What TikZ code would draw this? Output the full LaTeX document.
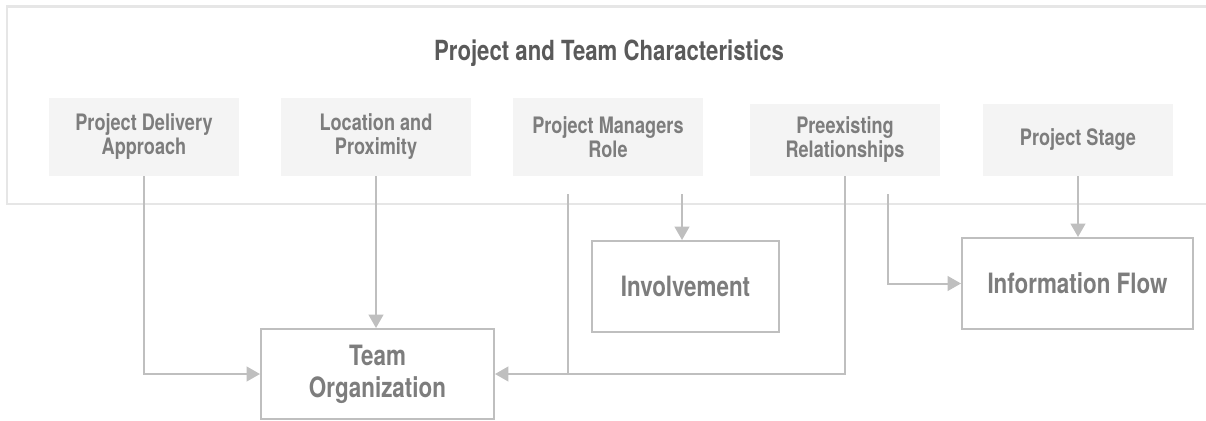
\documentclass[tikz,border=0pt]{standalone}
\usepackage{fontspec}
\setmainfont{TeX Gyre Heros}[FakeStretch=0.8]
\usetikzlibrary{arrows.meta}
\definecolor{lineg}{HTML}{BFBFBF}
\definecolor{frameg}{HTML}{E6E6E6}
\definecolor{fillg}{HTML}{F4F4F4}
\definecolor{txtg}{HTML}{7D7D7D}
\definecolor{titleg}{HTML}{5A5A5A}
\begin{document}
\begin{tikzpicture}[x=0.75pt,y=-0.75pt,
  charbox/.style={fill=fillg,draw=none,inner sep=0pt,minimum width=142.5pt,align=center,
    text=txtg,font=\fontsize{17}{18}\selectfont\bfseries},
  outbox/.style={draw=lineg,line width=1.5pt,fill=white,inner sep=0pt,align=center,
    text=txtg,font=\fontsize{21}{24}\selectfont\bfseries},
  conn/.style={draw=lineg,line width=1.5pt,-{Triangle[length=10pt,width=11pt]}},
  plainconn/.style={draw=lineg,line width=1.5pt},
  frame/.style={draw=frameg,line width=1.8pt}
]
\useasboundingbox (0,0) rectangle (1206,421);
\draw[frame] (1210,6.5) -- (7,6.5) -- (7,204) -- (1210,204);
\node[text=titleg,font=\fontsize{20.8}{24}\selectfont\bfseries,inner sep=0pt] (ttl) at (609,53) {Project and Team Characteristics};

\node[charbox,minimum height=58.5pt] (b1) at (144,137) {Project Delivery\\Approach};
\node[charbox,minimum height=58.5pt] (b2) at (376,137) {Location and\\Proximity};
\node[charbox,minimum height=58.5pt] (b3) at (608,137) {Project Managers\\Role};
\node[charbox,minimum height=54pt] (b4) at (845,140) {Preexisting\\Relationships};
\node[charbox,minimum height=54pt] (b5) at (1078,140) {Project Stage};

\node[outbox,minimum width=174.75pt,minimum height=67.5pt] (to) at (377.5,374) {Team\\Organization};
\node[outbox,minimum width=140.25pt,minimum height=68.25pt] (inv) at (685.5,286.5) {Involvement};
\node[outbox,minimum width=173.25pt,minimum height=68.25pt] (inf) at (1077.5,283.5) {Information Flow};

\coordinate (pm1) at (568,194);
\coordinate (pm2) at (682,194);
\coordinate (pr2) at (888,194);

\draw[conn] (b1.south) |- (to.west);
\draw[conn] (b2.south) -- (b2.south |- to.north);
\draw[plainconn] (pm1) -- (pm1 |- to.east);
\draw[conn] (b4.south) |- (to.east);
\draw[conn] (pm2) -- (pm2 |- inv.north);
\draw[conn] (pr2) |- (inf.west);
\draw[conn] (b5.south) -- (b5.south |- inf.north);
\end{tikzpicture}
\end{document}
